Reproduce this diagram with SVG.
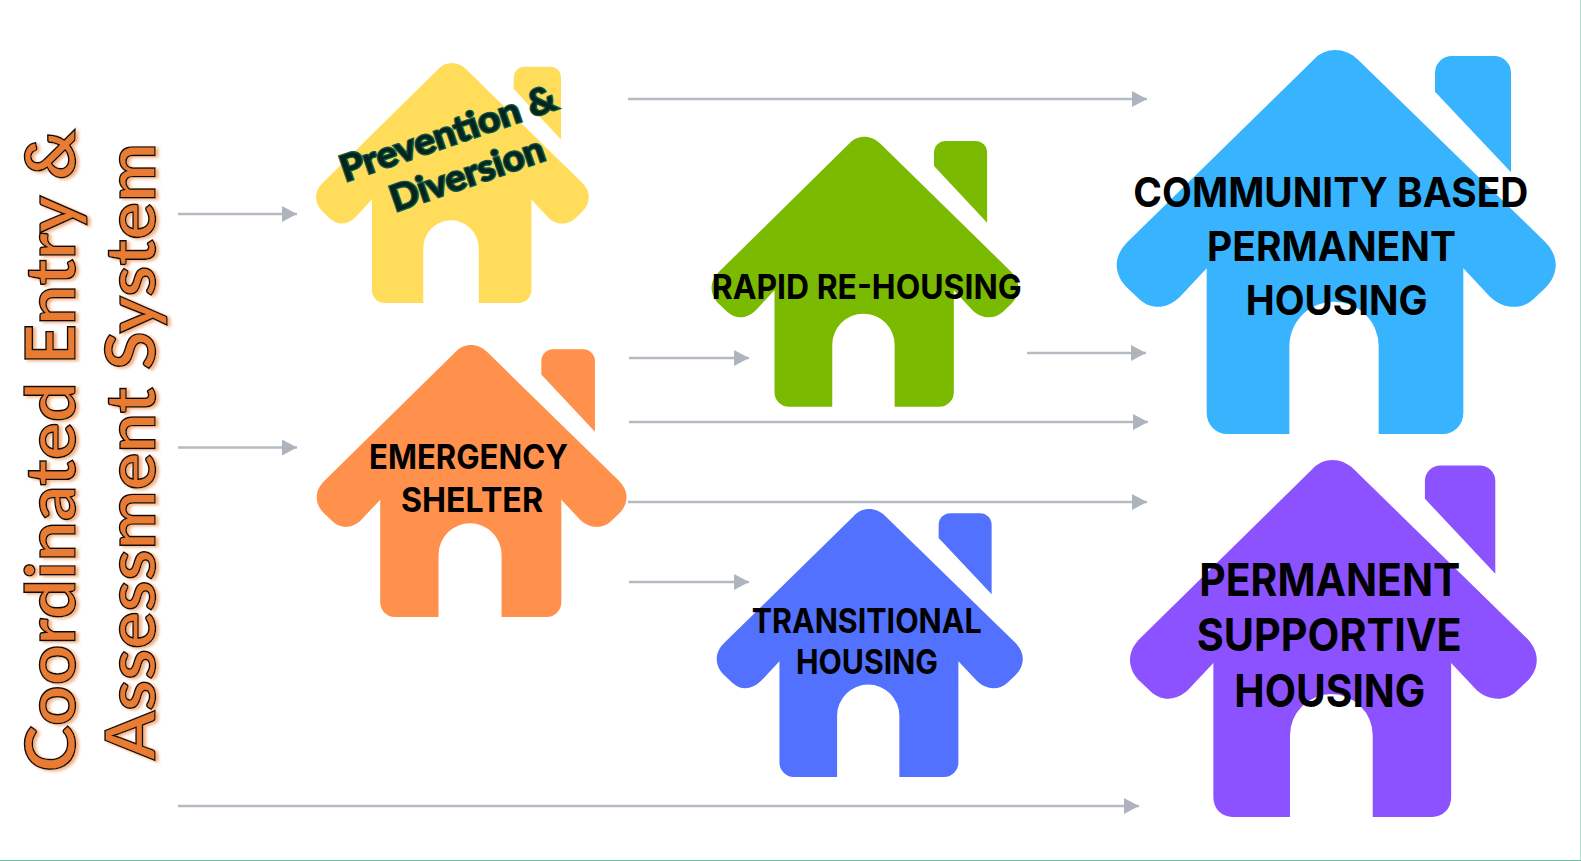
<svg xmlns="http://www.w3.org/2000/svg" width="1581" height="861" viewBox="0 0 1581 861">
<style>
.lbl{font-family:"Inter","Liberation Sans",sans-serif;font-weight:700;fill:#000}
.ttl{font-family:"Lato","Liberation Sans",sans-serif;font-size:68px;font-weight:700;fill:#e97c33;stroke:#111;stroke-width:1.4px}
.prev{font-family:"Lato","Liberation Sans",sans-serif;font-size:36px;font-weight:700;fill:#04241c;stroke:#0d5c4b;stroke-width:2.6px;paint-order:stroke}
.cn line{stroke:#b6bbc3;stroke-width:2.6;marker-end:url(#ah)}
</style>
<defs>
<marker id="ah" markerUnits="userSpaceOnUse" markerWidth="16" markerHeight="16" viewBox="0 0 15 16" refX="15" refY="8" orient="auto"><path d="M0,0L15,8L0,16Z" fill="#aeb4be"/></marker>
<path id="h" d="M590,30C625,-10 685,-10 725,30L1285,575C1328,618 1328,672 1285,715L1250,748C1212,783 1155,775 1120,740L1040,655V1090A62,62 0 0 1 978,1152H786V889A134,134 0 0 0 518,889V1152H332A62,62 0 0 1 270,1090V655L190,740C155,775 106,783 68,748L33,715C-11,672 -11,618 33,575ZM955,125V68A50,50 0 0 1 1005,18H1133A50,50 0 0 1 1183,68V367Z"/>
<filter id="glow" x="-20%" y="-5%" width="140%" height="110%"><feDropShadow dx="3" dy="1.5" stdDeviation="1.6" flood-color="#f4b183"/></filter>
</defs>
<rect width="1581" height="861" fill="#fff"/>
<path d="M1580.5,0V861" stroke="#a9dfd0" stroke-width="1" fill="none"/>
<path d="M0,860.5H1581" stroke="#6cc0a0" stroke-width="1" fill="none"/>
<g id="connectors" class="cn">
<line x1="178" y1="214" x2="297" y2="214"/>
<line x1="178" y1="447.5" x2="297" y2="447.5"/>
<line x1="178" y1="806" x2="1139" y2="806"/>
<line x1="628" y1="99" x2="1147" y2="99"/>
<line x1="1027" y1="353" x2="1146" y2="353"/>
<line x1="629" y1="358" x2="749" y2="358"/>
<line x1="629" y1="422" x2="1148" y2="422"/>
<line x1="628" y1="502" x2="1147" y2="502"/>
<line x1="629" y1="582" x2="749" y2="582"/>
</g>
<g id="title" filter="url(#glow)">
<text class="ttl" transform="translate(75 772) rotate(-90)" textLength="643" lengthAdjust="spacingAndGlyphs">Coordinated Entry &amp;</text>
<text class="ttl" transform="translate(154.5 760) rotate(-90)" textLength="617" lengthAdjust="spacingAndGlyphs">Assessment System</text>
</g>
<g id="prevention">
<use href="#h" fill="#ffdc5a" transform="translate(316 63) scale(.2071 .2083)"/>
<text class="prev" transform="translate(345 182) rotate(-19)" textLength="226" lengthAdjust="spacingAndGlyphs">Prevention &amp;</text>
<text class="prev" transform="translate(395 212) rotate(-19)" textLength="161" lengthAdjust="spacingAndGlyphs">Diversion</text>
</g>
<g id="rapid">
<use href="#h" fill="#7aba00" transform="translate(711.6 136.7) scale(.2329 .2344)"/>
<text class="lbl" font-size="34.5" x="711.7" y="299.3" textLength="310" lengthAdjust="spacingAndGlyphs">RAPID RE-HOUSING</text>
</g>
<g id="emergency">
<use href="#h" fill="#ff914d" transform="translate(316.7 345) scale(.2352 .2361)"/>
<text class="lbl" font-size="33.5" x="369" y="469.3" textLength="199" lengthAdjust="spacingAndGlyphs">EMERGENCY</text>
<text class="lbl" font-size="33.5" x="401" y="511.7" textLength="142" lengthAdjust="spacingAndGlyphs">SHELTER</text>
</g>
<g id="transitional">
<use href="#h" fill="#5271ff" transform="translate(716.7 509) scale(.2324 .2326)"/>
<text class="lbl" font-size="33.5" x="751.7" y="632.7" textLength="230" lengthAdjust="spacingAndGlyphs">TRANSITIONAL</text>
<text class="lbl" font-size="33.5" x="796" y="674" textLength="142" lengthAdjust="spacingAndGlyphs">HOUSING</text>
</g>
<g id="community">
<use href="#h" fill="#38b4ff" transform="translate(1116.7 50) scale(.3333 .3333)"/>
<text class="lbl" font-size="41" x="1133.3" y="206.7" textLength="395" lengthAdjust="spacingAndGlyphs">COMMUNITY BASED</text>
<text class="lbl" font-size="41" x="1207" y="260.7" textLength="249" lengthAdjust="spacingAndGlyphs">PERMANENT</text>
<text class="lbl" font-size="41" x="1245.7" y="315" textLength="182" lengthAdjust="spacingAndGlyphs">HOUSING</text>
</g>
<g id="supportive">
<use href="#h" fill="#8c52ff" transform="translate(1130 460) scale(.3088 .3099)"/>
<text class="lbl" font-size="45" x="1199.3" y="596" textLength="261" lengthAdjust="spacingAndGlyphs">PERMANENT</text>
<text class="lbl" font-size="45" x="1196.7" y="650.7" textLength="265" lengthAdjust="spacingAndGlyphs">SUPPORTIVE</text>
<text class="lbl" font-size="45" x="1234.3" y="706.7" textLength="191" lengthAdjust="spacingAndGlyphs">HOUSING</text>
</g>
</svg>
